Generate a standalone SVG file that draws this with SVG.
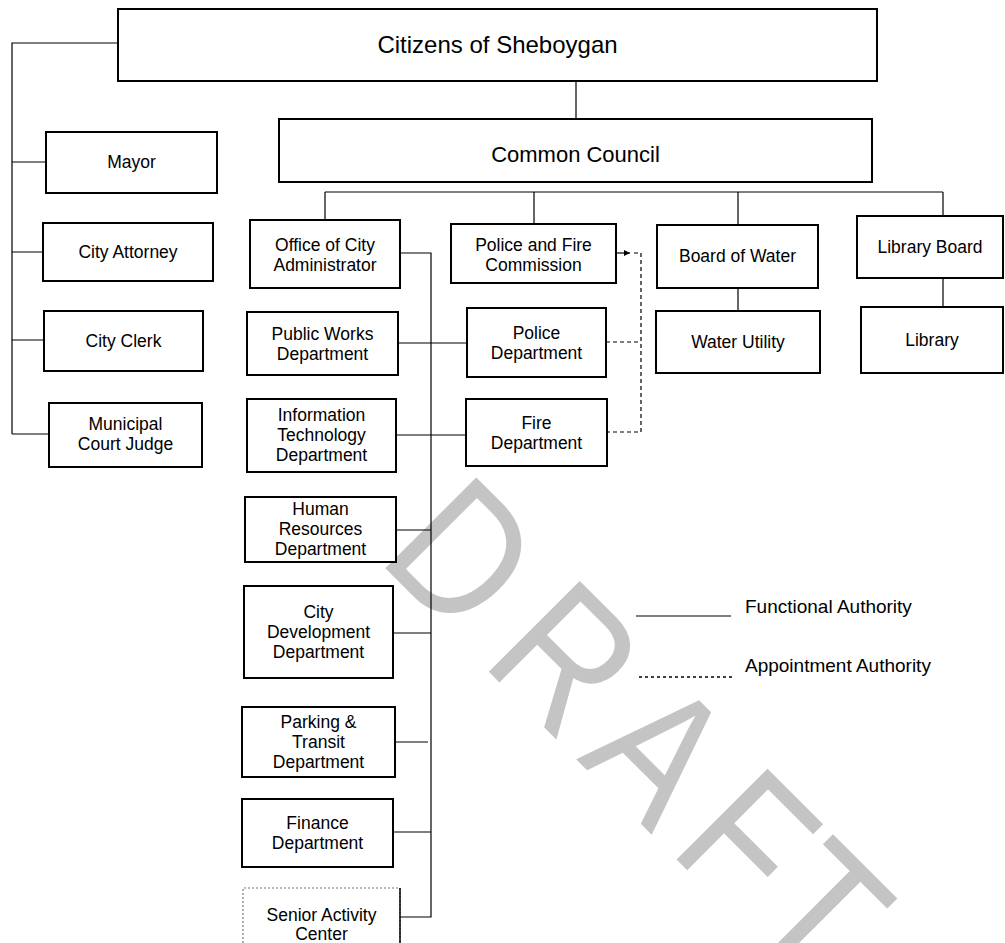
<svg xmlns="http://www.w3.org/2000/svg" width="1005" height="943" viewBox="0 0 1005 943">
<style>
.box{fill:#fff;stroke:#000;stroke-width:2}
.t{font-family:"Liberation Sans",Arial,sans-serif;font-size:17.5px;fill:#000;text-anchor:middle}
.big{font-size:24px}
.mid{font-size:22px}
.c{fill:none;stroke:#000;stroke-width:1.2}
.d{fill:none;stroke:#000;stroke-width:1.2;stroke-dasharray:4 3}
.lg{font-family:"Liberation Sans",Arial,sans-serif;font-size:19px;fill:#000}
.wm{font-family:"Liberation Sans",Arial,sans-serif;font-size:187px;fill:#c4c4c4}
</style>
<defs>
<marker id="ah" viewBox="0 0 6 6" refX="6" refY="3" markerWidth="6" markerHeight="6" markerUnits="userSpaceOnUse" orient="auto"><path d="M0,0L6,3L0,6z" fill="#000"/></marker>
</defs>
<rect width="1005" height="943" fill="#fff"/>
<g id="watermark" transform="translate(385,568) rotate(45) scale(0.86,1)">
<text class="wm" x="-14.8" y="0">D</text>
<text class="wm" x="155.6" y="0">R</text>
<text class="wm" x="314" y="0">A</text>
<text class="wm" x="464" y="0">F</text>
<text class="wm" x="583" y="0">T</text>
</g>
<g id="connectors">
<path class="c" d="M118,43H12V434M12,162H46M12,252H43M12,340H44M12,434H49"/>
<path class="c" d="M576,81V119"/>
<path class="c" d="M325,192H943M325,192V220M534,192V224M738,192V225M943,192V216M738,288V311M943,278V307"/>
<path class="c" d="M400,253H431V917H400M398,343H467M396,435H466M396,530H431M393,633H431M395,742H428M393,832H431"/>
<path class="c" d="M616,253H630" marker-end="url(#ah)"/>
<path class="d" d="M634,253H641V432H607M606,342H641"/>
</g>
<g id="citizens"><rect class="box" x="118" y="9" width="759" height="72"/><text class="t big" x="497.5" y="53">Citizens of Sheboygan</text></g>
<g id="council"><rect class="box" x="279" y="119" width="593" height="63"/><text class="t mid" x="575.5" y="162">Common Council</text></g>
<g id="mayor"><rect class="box" x="46" y="132" width="171" height="61"/><text class="t" x="131.5" y="168">Mayor</text></g>
<g id="attorney"><rect class="box" x="43" y="223" width="170" height="58"/><text class="t" x="128" y="258">City Attorney</text></g>
<g id="clerk"><rect class="box" x="44" y="311" width="159" height="60"/><text class="t" x="123.5" y="347">City Clerk</text></g>
<g id="judge"><rect class="box" x="49" y="403" width="153" height="64"/><text class="t" x="125.5" y="430">Municipal</text><text class="t" x="125.5" y="450">Court Judge</text></g>
<g id="administrator"><rect class="box" x="250" y="220" width="150" height="68"/><text class="t" x="325" y="251">Office of City</text><text class="t" x="325" y="271">Administrator</text></g>
<g id="publicworks"><rect class="box" x="247" y="312" width="151" height="63"/><text class="t" x="322.5" y="340">Public Works</text><text class="t" x="322.5" y="360">Department</text></g>
<g id="infotech"><rect class="box" x="247" y="399" width="149" height="73"/><text class="t" x="321.5" y="421">Information</text><text class="t" x="321.5" y="441">Technology</text><text class="t" x="321.5" y="461">Department</text></g>
<g id="hr"><rect class="box" x="245" y="497" width="151" height="65"/><text class="t" x="320.5" y="515">Human</text><text class="t" x="320.5" y="535">Resources</text><text class="t" x="320.5" y="555">Department</text></g>
<g id="citydev"><rect class="box" x="244" y="586" width="149" height="92"/><text class="t" x="318.5" y="618">City</text><text class="t" x="318.5" y="638">Development</text><text class="t" x="318.5" y="658">Department</text></g>
<g id="parking"><rect class="box" x="242" y="707" width="153" height="70"/><text class="t" x="318.5" y="728">Parking &amp;</text><text class="t" x="318.5" y="748">Transit</text><text class="t" x="318.5" y="768">Department</text></g>
<g id="finance"><rect class="box" x="242" y="799" width="151" height="68"/><text class="t" x="317.5" y="829">Finance</text><text class="t" x="317.5" y="849">Department</text></g>
<g id="senior"><path d="M400,950V888H243V950" fill="#fff" stroke="#777" stroke-width="1.2" stroke-dasharray="2 2"/><path d="M400,888V943" stroke="#000" stroke-width="1.5"/><text class="t" x="321.5" y="921">Senior Activity</text><text class="t" x="321.5" y="940">Center</text></g>
<g id="pfcommission"><rect class="box" x="451" y="224" width="165" height="59"/><text class="t" x="533.5" y="251">Police and Fire</text><text class="t" x="533.5" y="271">Commission</text></g>
<g id="police"><rect class="box" x="467" y="308" width="139" height="69"/><text class="t" x="536.5" y="339">Police</text><text class="t" x="536.5" y="359">Department</text></g>
<g id="fire"><rect class="box" x="466" y="399" width="141" height="67"/><text class="t" x="536.5" y="429">Fire</text><text class="t" x="536.5" y="449">Department</text></g>
<g id="boardwater"><rect class="box" x="657" y="225" width="161" height="63"/><text class="t" x="737.5" y="262">Board of Water</text></g>
<g id="waterutility"><rect class="box" x="656" y="311" width="164" height="62"/><text class="t" x="738" y="348">Water Utility</text></g>
<g id="libraryboard"><rect class="box" x="857" y="216" width="146" height="62"/><text class="t" x="930" y="253">Library Board</text></g>
<g id="library"><rect class="box" x="861" y="307" width="142" height="66"/><text class="t" x="932" y="346">Library</text></g>
<g id="legend">
<path class="c" d="M636,616H731"/>
<text class="lg" x="745" y="613">Functional Authority</text>
<path d="M639,677H735" stroke="#000" stroke-width="1.5" stroke-dasharray="3 3"/>
<text class="lg" x="745" y="672">Appointment Authority</text>
</g>
</svg>
